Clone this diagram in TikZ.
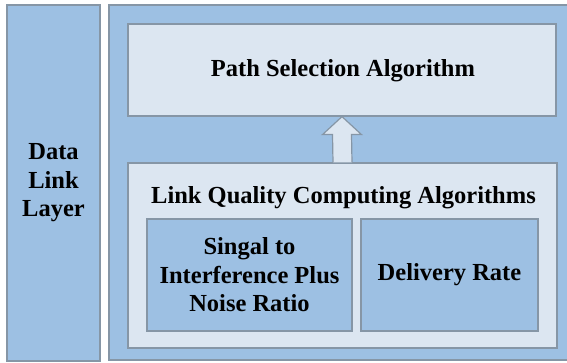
\documentclass[tikz,border=0pt]{standalone}
\usepackage{fontspec}
\setmainfont{Liberation Serif}
\usetikzlibrary{calc}
\definecolor{bluefill}{HTML}{9DC0E3}
\definecolor{lightfill}{HTML}{DCE6F1}
\definecolor{edgegray}{HTML}{8696A6}
\tikzset{
  bluebox/.style={draw=edgegray, line width=1.2pt, fill=bluefill, inner sep=0pt, align=center, font=\fontsize{24.5}{28.5}\selectfont\bfseries},
  lightbox/.style={draw=edgegray, line width=1.2pt, fill=lightfill, inner sep=0pt, align=center, font=\fontsize{24.5}{28.5}\selectfont\bfseries},
  txt/.style={inner sep=0pt, font=\fontsize{24.5}{28.5}\selectfont\bfseries},
  blockarrow/.style={draw=edgegray, line width=1.2pt, fill=lightfill, line join=miter}
}
\begin{document}
\begin{tikzpicture}[x=1pt,y=-1pt]
\useasboundingbox (0,0) rectangle (567,363);
\fill[white] (0,0) rectangle (567,363);
% left column
\node[bluebox, minimum width=93pt, minimum height=356pt] (dll) at (53.5,183) {Data\\Link\\Layer};
% right outer panel
\node[bluebox, minimum width=466pt, minimum height=355pt] (outer) at (342,182.5) {};
% path selection
\node[lightbox, minimum width=428pt, minimum height=92pt] (path) at (342,70) {};
\node[txt, anchor=base] (pathtxt) at (343,77) {Path Selection Algorithm};
% link quality
\node[lightbox, minimum width=429pt, minimum height=185pt] (lq) at (342.5,255.5) {};
\node[txt, anchor=base] (lqtxt) at (343.5,204) {Link Quality Computing Algorithms};
\node[bluebox, minimum width=205pt, minimum height=112pt] (sinr) at (249.5,275) {Singal to\\Interference Plus\\Noise Ratio};
\node[bluebox, minimum width=177pt, minimum height=112pt] (dr) at (449.5,275) {Delivery Rate};
% block arrow from lq to path
\draw[blockarrow]
  ($(lq.north)+(-9.5,0)$) -- ($(path.south)+(-9.5,18)$) -- ($(path.south)+(-19.5,18)$)
  -- (path.south) -- ($(path.south)+(19.5,18)$) -- ($(path.south)+(9.5,18)$)
  -- ($(lq.north)+(9.5,0)$);
\end{tikzpicture}
\end{document}
